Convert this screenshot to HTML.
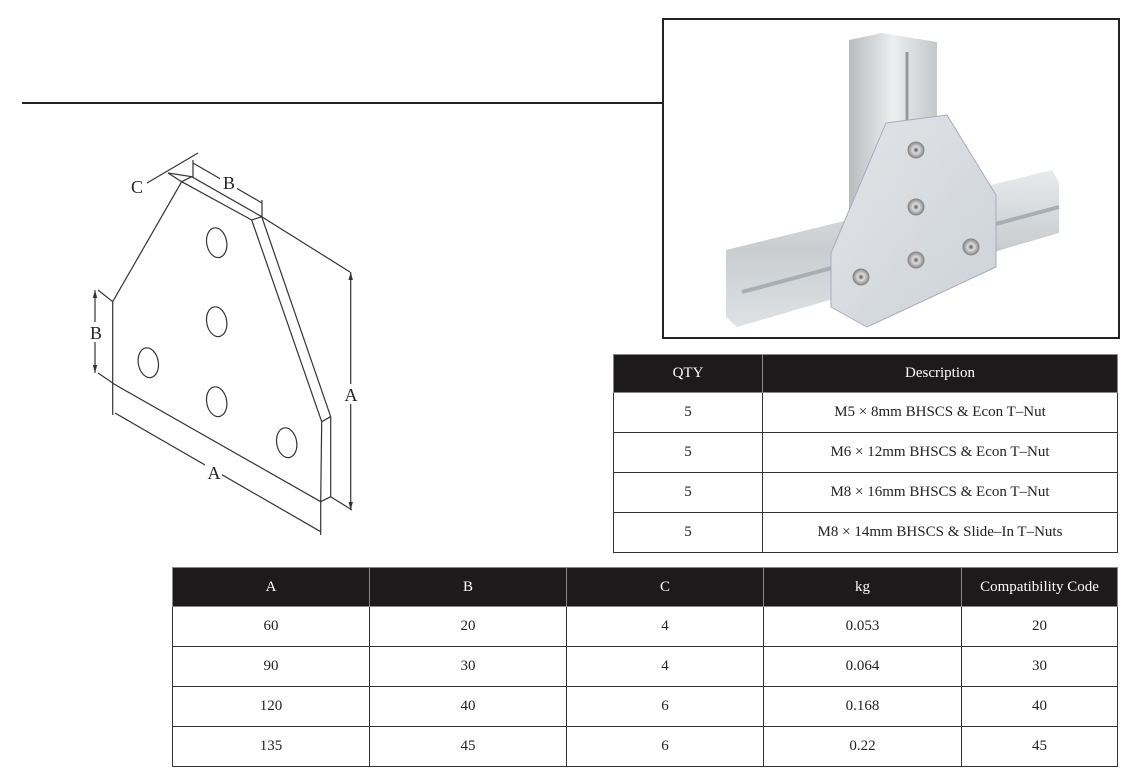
<!DOCTYPE html>
<html><head><meta charset="utf-8"><style>
body{margin:0;width:1138px;height:783px;background:#fff;position:relative;overflow:hidden;font-family:"Liberation Serif",serif;}
table{position:absolute;border-collapse:collapse;table-layout:fixed;}
td,th{border:1.5px solid #333;text-align:center;font-size:15px;color:#222;font-weight:normal;padding:0;}
th{background:#1c1a1a;color:#fff;border-color:#888;}
</style></head><body>
<div style="position:absolute;left:22px;top:102px;width:640px;height:2px;background:#222"></div>
<div style="position:absolute;left:662px;top:18px;width:454px;height:317px;border:2px solid #222;background:#fff;overflow:hidden">
<svg width="454" height="317" viewBox="662 18 454 317">
<defs><linearGradient id="g" x1="0" x2="1"><stop offset="0" stop-color="#b8bcbf"/><stop offset=".5" stop-color="#eceeef"/><stop offset="1" stop-color="#c4c8cb"/></linearGradient>
<linearGradient id="h" x1="0" y1="0" x2="0" y2="1"><stop offset="0" stop-color="#e8eaec"/><stop offset=".5" stop-color="#c9cdd0"/><stop offset="1" stop-color="#dfe2e4"/></linearGradient>
<linearGradient id="p" x1="0" y1="0" x2="1" y2="1"><stop offset="0" stop-color="#e2e5e8"/><stop offset="1" stop-color="#cdd2d6"/></linearGradient>
<radialGradient id="s"><stop offset="0" stop-color="#555"/><stop offset=".4" stop-color="#ddd"/><stop offset="1" stop-color="#888"/></radialGradient></defs>
<polygon points="847,38 880,31 935,40 935,210 847,210" fill="url(#g)"/>
<line x1="905" y1="50" x2="905" y2="200" stroke="#999" stroke-width="3"/>
<polygon points="724,248 1050,168 1057,180 1057,231 735,325 724,315" fill="url(#h)"/>
<line x1="740" y1="290" x2="1057" y2="205" stroke="#a9aeb2" stroke-width="4"/>
<polygon points="884,121 945,113 994,193 994,265 865,325 829,305 829,251" fill="url(#p)" stroke="#aab"/>
<g fill="url(#s)" stroke="#888"><circle cx="914" cy="148" r="8"/><circle cx="914" cy="205" r="8"/><circle cx="914" cy="258" r="8"/><circle cx="969" cy="245" r="8"/><circle cx="859" cy="275" r="8"/></g>
</svg></div>
<svg style="position:absolute;left:0;top:0" width="600" height="560">
<g fill="none" stroke="#333" stroke-width="1.2">
<polygon points="181.7,181.7 251.7,220 321.7,421.7 320.7,501.7 112.7,383.3 112.7,301.7" fill="#fff"/>
<polyline points="168,173 181.7,181.7"/>
<polyline points="168,173 191.7,176.7 261.7,216.7 330.7,416.7 330.7,496.7 320.7,501.7"/>
<line x1="251.7" y1="220" x2="261.7" y2="216.7"/><line x1="321.7" y1="421.7" x2="330.7" y2="416.7"/>
<line x1="191.7" y1="176.7" x2="181.7" y2="181.7"/>
<g transform="rotate(-10 216.7 242.7)"><ellipse cx="216.7" cy="242.7" rx="10" ry="15"/></g>
<g transform="rotate(-10 216.7 321.7)"><ellipse cx="216.7" cy="321.7" rx="10" ry="15"/></g>
<g transform="rotate(-10 148.3 362.7)"><ellipse cx="148.3" cy="362.7" rx="10" ry="15"/></g>
<g transform="rotate(-10 216.7 401.7)"><ellipse cx="216.7" cy="401.7" rx="10" ry="15"/></g>
<g transform="rotate(-10 286.7 442.7)"><ellipse cx="286.7" cy="442.7" rx="10" ry="15"/></g>
<line x1="261.7" y1="216.7" x2="350" y2="272"/><line x1="330.7" y1="496.7" x2="352" y2="510"/>
<line x1="350.7" y1="272" x2="350.7" y2="510"/>
<line x1="112.7" y1="383.3" x2="112.7" y2="415"/><line x1="320.7" y1="501.7" x2="320.7" y2="535"/>
<line x1="115" y1="413" x2="320.7" y2="531.7"/>
<line x1="95" y1="290" x2="95" y2="373"/><line x1="98" y1="290" x2="112.7" y2="301.7"/><line x1="98" y1="373" x2="112.7" y2="383"/>
<line x1="193" y1="163" x2="262" y2="203"/><line x1="193" y1="160" x2="193" y2="177"/><line x1="262" y1="200" x2="262" y2="217"/>
<line x1="147" y1="183" x2="198" y2="153"/>
</g>
<g fill="#333">
<polygon points="350.7,272 348.5,280 352.9,280"/><polygon points="350.7,510 348.5,502 352.9,502"/>
<polygon points="95,290 92.8,298 97.2,298"/><polygon points="95,373 92.8,365 97.2,365"/>
</g>
<g font-family="Liberation Serif" font-size="18" fill="#222" text-anchor="middle">
<rect x="342" y="384" width="17" height="20" fill="#fff"/><text x="351" y="401">A</text>
<rect x="205" y="462" width="17" height="20" fill="#fff"/><text x="214" y="479">A</text>
<rect x="88" y="322" width="16" height="20" fill="#fff"/><text x="96" y="339">B</text>
<rect x="220" y="172" width="17" height="20" fill="#fff"/><text x="229" y="189">B</text>
<text x="137" y="193">C</text></g>
</svg>
<table style="left:613px;top:354px;width:505px">
<col style="width:149px"><col>
<tr style="height:38px"><th>QTY</th><th>Description</th></tr>
<tr style="height:40px"><td>5</td><td>M5 × 8mm BHSCS &amp; Econ T–Nut</td></tr>
<tr style="height:40px"><td>5</td><td>M6 × 12mm BHSCS &amp; Econ T–Nut</td></tr>
<tr style="height:40px"><td>5</td><td>M8 × 16mm BHSCS &amp; Econ T–Nut</td></tr>
<tr style="height:40px"><td>5</td><td>M8 × 14mm BHSCS &amp; Slide–In T–Nuts</td></tr>
</table>
<table style="left:172px;top:567px;width:946px">
<col style="width:197px"><col style="width:197px"><col style="width:197px"><col style="width:198px"><col>
<tr style="height:39px"><th>A</th><th>B</th><th>C</th><th>kg</th><th>Compatibility Code</th></tr>
<tr style="height:40px"><td>60</td><td>20</td><td>4</td><td>0.053</td><td>20</td></tr>
<tr style="height:40px"><td>90</td><td>30</td><td>4</td><td>0.064</td><td>30</td></tr>
<tr style="height:40px"><td>120</td><td>40</td><td>6</td><td>0.168</td><td>40</td></tr>
<tr style="height:40px"><td>135</td><td>45</td><td>6</td><td>0.22</td><td>45</td></tr>
</table>
</body></html>
